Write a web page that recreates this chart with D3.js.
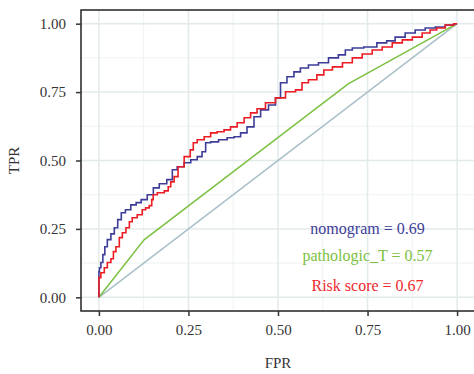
<!DOCTYPE html>
<html>
<head>
<meta charset="utf-8">
<script src="https://cdn.jsdelivr.net/npm/d3@7"></script>
<style>
  body { margin: 0; background: #fff; }
  text { font-family: "Liberation Serif", "DejaVu Serif", serif; }
</style>
</head>
<body>
<div id="chart"></div>
<script>
// ROC curves: nomogram, pathologic_T, risk score

var nomogramFPR = [0, 0, 0.003, 0.008, 0.014, 0.019, 0.028, 0.039, 0.047, 0.058, 0.067, 0.081, 0.097, 0.111, 0.125, 0.145, 0.159, 0.178, 0.201, 0.209, 0.228, 0.248, 0.265, 0.284, 0.292, 0.304, 0.320, 0.348, 0.368, 0.387, 0.404, 0.423, 0.443, 0.460, 0.487, 0.499, 0.515, 0.535, 0.554, 0.571, 0.599, 0.627, 0.655, 0.682, 0.694, 0.721, 0.758, 0.794, 0.813, 0.841, 0.869, 0.897, 0.925, 0.953, 0.981, 1];
var nomogramTPR = [0, 0.094, 0.108, 0.127, 0.156, 0.185, 0.211, 0.232, 0.254, 0.284, 0.309, 0.320, 0.338, 0.346, 0.357, 0.375, 0.400, 0.415, 0.430, 0.466, 0.477, 0.492, 0.503, 0.514, 0.532, 0.565, 0.568, 0.576, 0.583, 0.587, 0.601, 0.623, 0.660, 0.685, 0.703, 0.729, 0.784, 0.806, 0.824, 0.838, 0.849, 0.857, 0.875, 0.886, 0.904, 0.911, 0.915, 0.930, 0.937, 0.951, 0.966, 0.977, 0.984, 0.988, 0.995, 1];

var riskFPR = [0, 0, 0.011, 0.019, 0.028, 0.039, 0.042, 0.053, 0.061, 0.070, 0.081, 0.089, 0.097, 0.117, 0.125, 0.136, 0.145, 0.150, 0.153, 0.173, 0.192, 0.195, 0.206, 0.214, 0.228, 0.248, 0.262, 0.265, 0.284, 0.304, 0.320, 0.340, 0.359, 0.376, 0.396, 0.415, 0.432, 0.451, 0.479, 0.507, 0.535, 0.563, 0.571, 0.599, 0.618, 0.638, 0.666, 0.694, 0.721, 0.749, 0.777, 0.805, 0.833, 0.861, 0.889, 0.916, 0.933, 0.953, 0.981, 1];
var riskTPR = [0, 0.072, 0.090, 0.108, 0.127, 0.141, 0.167, 0.185, 0.218, 0.236, 0.254, 0.276, 0.291, 0.302, 0.320, 0.327, 0.335, 0.357, 0.375, 0.382, 0.389, 0.404, 0.422, 0.441, 0.477, 0.514, 0.539, 0.565, 0.576, 0.587, 0.601, 0.605, 0.612, 0.623, 0.638, 0.656, 0.674, 0.689, 0.711, 0.729, 0.751, 0.758, 0.784, 0.795, 0.813, 0.831, 0.842, 0.857, 0.875, 0.889, 0.904, 0.915, 0.930, 0.941, 0.951, 0.966, 0.977, 0.984, 0.995, 1];

var pathTFPR = [0, 0.126, 0.696, 1];
var pathTTPR = [0, 0.21, 0.78, 1];

var labels = ["nomogram = 0.69", "pathologic_T = 0.57", "Risk score = 0.67"];
var labelColors = ["#3d3d99", "#7cc142", "#ee2a2e"];
var tickValues = [0, 0.25, 0.5, 0.75, 1];

var width = 474,
    height = 374,
    margin = {top: 10, right: 0, bottom: 63, left: 81};

var x = d3.scaleLinear()
    .domain([-0.05, 1.05])
    .range([margin.left, width - margin.right + 1]);

var y = d3.scaleLinear()
    .domain([-0.05, 1.05])
    .range([height - margin.bottom, margin.top]);

var svg = d3.select("#chart").append("svg")
    .attr("width", width)
    .attr("height", height);

// grid lines, minor first then major
var minor = [0.125, 0.375, 0.625, 0.875];
var grid = svg.append("g");
grid.selectAll(".vminor").data(minor).enter().append("line")
    .attr("x1", function(d) { return x(d); }).attr("x2", function(d) { return x(d); })
    .attr("y1", y.range()[0]).attr("y2", y.range()[1])
    .attr("stroke", "#e9efef").attr("stroke-width", 0.8);
grid.selectAll(".hminor").data(minor).enter().append("line")
    .attr("y1", function(d) { return y(d); }).attr("y2", function(d) { return y(d); })
    .attr("x1", x.range()[0]).attr("x2", x.range()[1])
    .attr("stroke", "#e9efef").attr("stroke-width", 0.8);
grid.selectAll(".vmajor").data(tickValues).enter().append("line")
    .attr("x1", function(d) { return x(d); }).attr("x2", function(d) { return x(d); })
    .attr("y1", y.range()[0]).attr("y2", y.range()[1])
    .attr("stroke", "#e3eaea").attr("stroke-width", 1.5);
grid.selectAll(".hmajor").data(tickValues).enter().append("line")
    .attr("y1", function(d) { return y(d); }).attr("y2", function(d) { return y(d); })
    .attr("x1", x.range()[0]).attr("x2", x.range()[1])
    .attr("stroke", "#e3eaea").attr("stroke-width", 1.5);

function toPoints(xs, ys) {
    return xs.map(function(v, i) { return [v, ys[i]]; });
}

var line = d3.line()
    .x(function(d) { return x(d[0]); })
    .y(function(d) { return y(d[1]); });

// reference diagonal
svg.append("path")
    .attr("d", line([[0, 0], [1, 1]]))
    .attr("fill", "none")
    .attr("stroke", "#a9c0c8")
    .attr("stroke-width", 1.5);

svg.append("path")
    .attr("d", line(toPoints(pathTFPR, pathTTPR)))
    .attr("fill", "none")
    .attr("stroke", labelColors[1])
    .attr("stroke-width", 1.5);

var stepLine = d3.line()
    .x(function(d) { return x(d[0]); })
    .y(function(d) { return y(d[1]); })
    .curve(d3.curveStep);

svg.append("path")
    .attr("d", stepLine(toPoints(nomogramFPR, nomogramTPR)))
    .attr("fill", "none")
    .attr("stroke", "#3d3d99")
    .attr("stroke-width", 1.6);

svg.append("path")
    .attr("d", stepLine(toPoints(riskFPR, riskTPR)))
    .attr("fill", "none")
    .attr("stroke", "#ec1c24")
    .attr("stroke-width", 1.6);

// panel border
svg.append("rect")
    .attr("x", x.range()[0])
    .attr("y", y.range()[1])
    .attr("width", x.range()[1] - x.range()[0])
    .attr("height", y.range()[0] - y.range()[1])
    .attr("fill", "none")
    .attr("stroke", "#222")
    .attr("stroke-width", 1.5);

// axes
var xAxis = svg.append("g")
    .attr("transform", "translate(0," + y.range()[0] + ")")
    .call(d3.axisBottom(x).tickValues(tickValues).tickFormat(d3.format(".2f")).tickSize(5).tickPadding(8));
var yAxis = svg.append("g")
    .attr("transform", "translate(" + x.range()[0] + ",0)")
    .call(d3.axisLeft(y).tickValues(tickValues).tickFormat(d3.format(".2f")).tickSize(5).tickPadding(10));

[xAxis, yAxis].forEach(function(a) {
    a.select(".domain").remove();
    a.selectAll(".tick line").attr("stroke", "#333").attr("stroke-width", 1.5);
    a.selectAll(".tick text")
        .attr("fill", "#333")
        .style("font-family", "'Liberation Serif', serif")
        .style("font-size", "15px");
});

svg.append("text")
    .attr("x", (x.range()[0] + x.range()[1]) / 2)
    .attr("y", 368)
    .attr("text-anchor", "middle")
    .attr("fill", "#333")
    .style("font-size", "15px")
    .text("FPR");

svg.append("text")
    .attr("transform", "translate(19," + (y.range()[0] + y.range()[1]) / 2 + ") rotate(-90)")
    .attr("text-anchor", "middle")
    .attr("fill", "#333")
    .style("font-size", "15px")
    .text("TPR");

// AUC labels
var labelTPR = [0.25, 0.15, 0.04];
svg.selectAll(".auc").data(labels).enter().append("text")
    .attr("x", x(0.75))
    .attr("y", function(d, i) { return y(labelTPR[i]) + 5; })
    .attr("text-anchor", "middle")
    .attr("fill", function(d, i) { return labelColors[i]; })
    .style("font-size", "16px")
    .text(function(d) { return d; });
</script>
</body>
</html>
